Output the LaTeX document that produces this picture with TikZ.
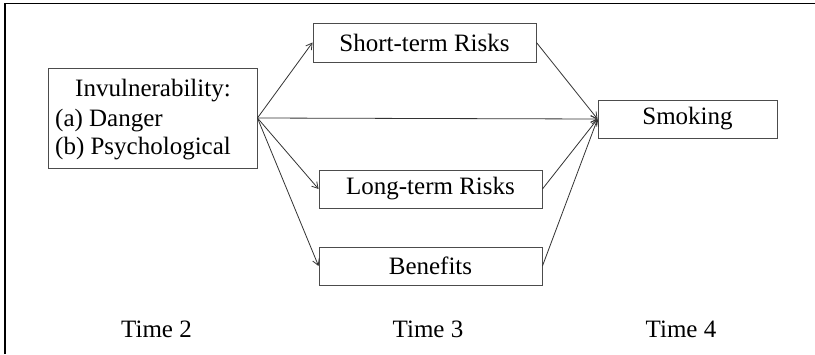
\documentclass[tikz,border=0pt]{standalone}
\usepackage{fontspec}
\setmainfont{Liberation Serif}
\newfontfamily\tnr{Liberation Serif}
\usetikzlibrary{arrows.meta}
\begin{document}
\begin{tikzpicture}[x=1pt,y=-1pt,
  box/.style={draw=black!70,line width=0.9pt,inner sep=0pt,
    font=\tnr\fontsize{25}{30}\selectfont},
  txt/.style={inner sep=0pt,font=\tnr\fontsize{25}{30}\selectfont},
  arr/.style={draw=black!80,line width=0.8pt,-{Straight Barb[length=6pt,width=7pt]}},
  frame/.style={line width=1.4pt,black}]
\useasboundingbox (0,0) rectangle (815,354);
\draw[frame] (5,354) -- (5,3.5) -- (815,3.5);
\node[box,minimum width=209pt,minimum height=100pt] (inv) at (152.5,118) {};
\node[txt,anchor=base] (inv1) at (153,96) {Invulnerability:};
\node[txt,anchor=base west] (inv2) at (55,126) {(a) Danger};
\node[txt,anchor=base west] (inv3) at (55,154) {(b) Psychological};
\node[box,minimum width=223pt,minimum height=39pt] (st) at (424.5,42.5) {Short-term Risks};
\node[box,minimum width=223pt,minimum height=38pt] (lt) at (430.5,189) {Long-term Risks};
\node[box,minimum width=223pt,minimum height=38pt] (ben) at (430.5,266) {Benefits};
\node[box,minimum width=179pt,minimum height=38pt] (smk) at (687.5,119) {Smoking};
\node[txt,anchor=base] (t2) at (156.5,337) {Time 2};
\node[txt,anchor=base] (t3) at (428,337) {Time 3};
\node[txt,anchor=base] (t4) at (681,337) {Time 4};
\draw[arr] (inv.east) -- (st.west);
\draw[arr] (inv.east) -- (smk.west);
\draw[arr] (inv.east) -- (lt.west);
\draw[arr] (inv.east) -- (ben.west);
\draw[arr] (st.east) -- (smk.west);
\draw[arr] (lt.east) -- (smk.west);
\draw[arr] (ben.east) -- (smk.west);
\end{tikzpicture}
\end{document}
